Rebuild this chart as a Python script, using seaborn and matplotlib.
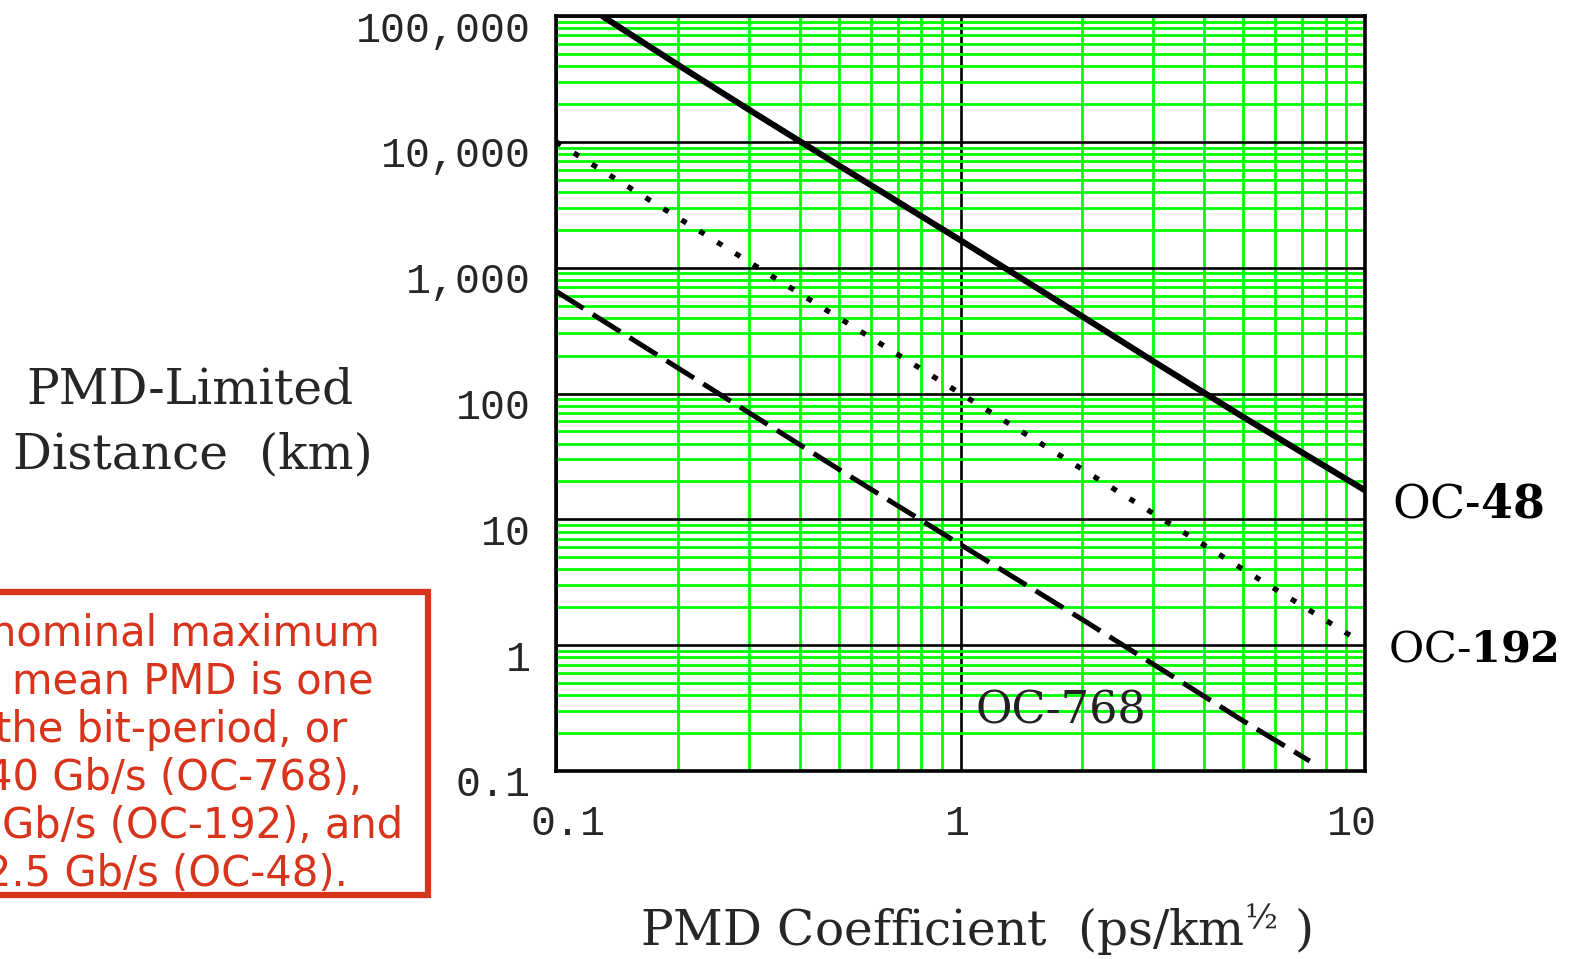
import matplotlib
matplotlib.use("Agg")
import matplotlib.pyplot as plt
import matplotlib.transforms as mtransforms
from matplotlib.ticker import LogLocator, FixedLocator, FixedFormatter, NullFormatter
from matplotlib.patches import Rectangle
import seaborn as sns
import pandas as pd

# ---- data ----
oc48_x = [0.13, 0.2, 0.3, 0.5, 1.0, 2.0, 3.0, 5.0, 10.0]
oc48_y = [100000, 41000, 18000, 6500, 1650, 410, 180, 65, 17]
oc192_x = [0.1, 0.2, 0.5, 1.0, 2.0, 5.0, 9.5]
oc192_y = [10000, 2500, 400, 100, 25, 4, 1.12]
oc768_x = [0.1, 0.2, 0.5, 1.0, 2.0, 5.0, 7.3]
oc768_y = [650, 160, 25, 6.3, 1.6, 0.25, 0.12]

x_ticks = [0.1, 1, 10]
x_tick_labels = ["0.1", "1", "10"]
y_ticks = [0.1, 1, 10, 100, 1000, 10000, 100000]
y_tick_labels = ["0.1", "1", "10", "100", "1,000", "10,000", "100,000"]

note_lines = ["nominal maximum", "mean PMD is one", "the bit-period, or",
              "40 Gb/s (OC-768),", "Gb/s (OC-192), and", "2.5 Gb/s (OC-48)."]

sns.set_style("white")
plt.rcParams["font.family"] = ["DejaVu Serif", "DejaVu Sans"]
plt.rcParams["mathtext.fontset"] = "dejavuserif"

W, H = 1571, 959
fig = plt.figure(figsize=(W / 100, H / 100), dpi=100)
ax = fig.add_axes([556 / W, (H - 771) / H, (1365 - 556) / W, (771 - 16) / H])
ax.set_xscale("log")
ax.set_yscale("log")
ax.set_xlim(0.1, 10)
ax.set_ylim(0.1, 100000)

ax.xaxis.set_minor_locator(LogLocator(base=10, subs=range(2, 10), numticks=30))
ax.yaxis.set_minor_locator(LogLocator(base=10, subs=range(2, 10), numticks=30))
ax.xaxis.set_minor_formatter(NullFormatter())
ax.yaxis.set_minor_formatter(NullFormatter())
ax.xaxis.set_major_locator(FixedLocator(x_ticks))
ax.xaxis.set_major_formatter(FixedFormatter(x_tick_labels))
ax.yaxis.set_major_locator(FixedLocator(y_ticks))
ax.yaxis.set_major_formatter(FixedFormatter(y_tick_labels))

ax.grid(which="minor", color="#00ff00", linewidth=2.0, zorder=0)
ax.grid(which="major", color="black", linewidth=1.9, zorder=0.5)
ax.set_axisbelow(True)
ax.tick_params(which="both", length=0)
ax.tick_params(axis="y", pad=18, labelsize=30)
ax.tick_params(axis="x", pad=24, labelsize=30)
for lab in ax.get_yticklabels() + ax.get_xticklabels():
    lab.set_family(["Liberation Mono", "DejaVu Sans Mono"])

for sp in ax.spines.values():
    sp.set_color("black")
    sp.set_linewidth(2.6)

df48 = pd.DataFrame({"x": oc48_x, "y": oc48_y})
df192 = pd.DataFrame({"x": oc192_x, "y": oc192_y})
df768 = pd.DataFrame({"x": oc768_x, "y": oc768_y})
sns.lineplot(data=df48, x="x", y="y", ax=ax, color="black", linewidth=4.4,
             solid_capstyle="butt", zorder=3)
sns.lineplot(data=df192, x="x", y="y", ax=ax, color="black", linewidth=3.8,
             linestyle=(0, (1.1, 2.9)), zorder=3)
sns.lineplot(data=df768, x="x", y="y", ax=ax, color="black", linewidth=3.6,
             linestyle=(0, (6.5, 2.2)), zorder=3)
ax.set_xlabel("")
ax.set_ylabel("")

# nudge tick labels like the reference
for lab in ax.get_yticklabels():
    lab.set_transform(lab.get_transform() +
                      mtransforms.ScaledTranslation(0, -10 / 100, fig.dpi_scale_trans))
x_shifts = [12, -3, -13]
for lab, dx in zip(ax.get_xticklabels(), x_shifts):
    lab.set_transform(lab.get_transform() +
                      mtransforms.ScaledTranslation(dx / 100, 0, fig.dpi_scale_trans))

# series labels
ax.text(1392 / W, (H - 505) / H, "OC-$\\mathbf{48}$", transform=fig.transFigure,
        fontsize=33, ha="left", va="center", color="black")
ax.text(1388 / W, (H - 650) / H, "OC-$\\mathbf{192}$", transform=fig.transFigure,
        fontsize=31, ha="left", va="center", color="black")
ax.text(976 / W, (H - 711) / H, "OC-768", transform=fig.transFigure,
        fontsize=32, ha="left", va="center", color="#222222", zorder=4)

# axis titles
fig.text(190 / W, (H - 390) / H, "PMD-Limited", fontsize=35, ha="center", va="center")
fig.text(193 / W, (H - 455) / H, "Distance  (km)", fontsize=35, ha="center", va="center")
fig.text(976 / W, (H - 930) / H, "PMD Coefficient  (ps/km$^{½}$ )", fontsize=35,
         ha="center", va="center")

# red note box
fig.patches.append(Rectangle((-20 / W, (H - 895) / H), 448 / W, 303 / H,
                             transform=fig.transFigure, fill=False,
                             edgecolor="#d8341c", linewidth=4.5))
note_right = [380, 374, 347, 362, 403, 348]
for i, (line, xr) in enumerate(zip(note_lines, note_right)):
    fig.text(xr / W, (H - (634 + 48 * i)) / H, line, fontsize=30, ha="right",
             va="center", color="#d8341c", family=["DejaVu Sans"])

fig.savefig("out.png", dpi=100)
